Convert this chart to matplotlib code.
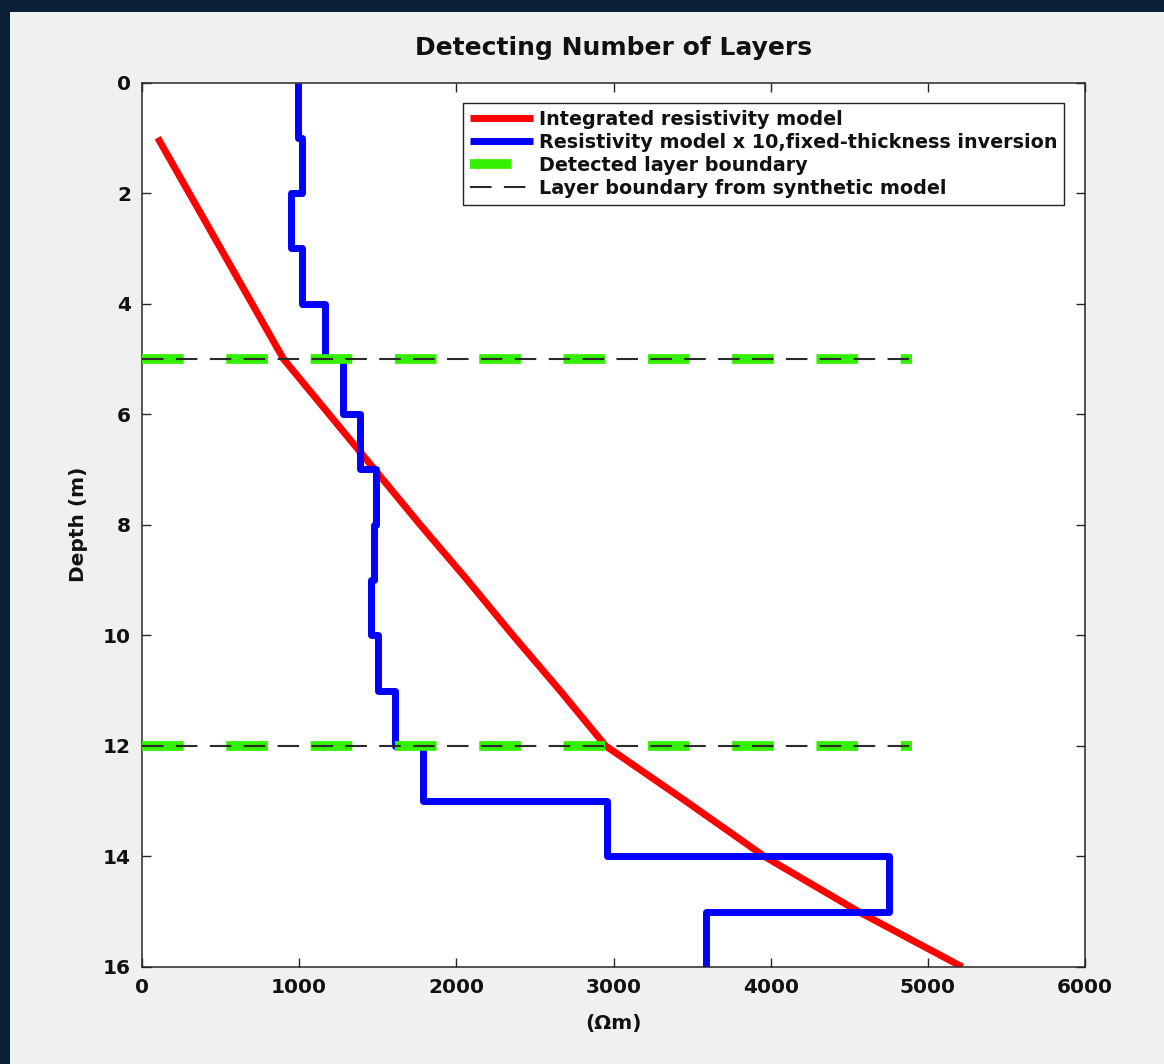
import matplotlib
matplotlib.use("Agg")
import matplotlib.pyplot as plt
from matplotlib.patches import Rectangle
from matplotlib.lines import Line2D

plt.rcParams['font.family'] = ['DejaVu Sans']
plt.rcParams['lines.scale_dashes'] = False

# ---- data ----
red_depth = [1, 2, 3, 4, 5, 6, 7, 8, 9, 10, 11, 12, 13, 14, 15, 16]
red_res = [100, 300, 500, 700, 900, 1190, 1480, 1770, 2070, 2360, 2660, 2950, 3460, 3960, 4560, 5220]

blue_edges = [0, 1, 2, 3, 4, 5, 6, 7, 8, 9, 10, 11, 12, 13, 14, 15, 16]
blue_res = [990, 1021, 946, 1021, 1166, 1276, 1389, 1490, 1478, 1456, 1499, 1611, 1788, 2960, 4754, 3590]

boundary_depths = [5, 12]
boundary_x = [0, 4900]

x_ticks = [0, 1000, 2000, 3000, 4000, 5000, 6000]
y_ticks = [0, 2, 4, 6, 8, 10, 12, 14, 16]

labels = ["Integrated resistivity model",
          "Resistivity model x 10,fixed-thickness inversion",
          "Detected layer boundary",
          "Layer boundary from synthetic model"]

# ---- figure ----
fig = plt.figure(figsize=(11.64, 10.64), dpi=100, facecolor='#f0f0f0')
# navy frame on top and left
fig.patches.append(Rectangle((0, 0), 10 / 1164, 1, transform=fig.transFigure,
                             facecolor='#0b1f38', edgecolor='none', zorder=-1))
fig.patches.append(Rectangle((0, 1 - 12 / 1064), 1, 12 / 1064, transform=fig.transFigure,
                             facecolor='#0b1f38', edgecolor='none', zorder=-1))

ax = fig.add_axes([142 / 1164, 1 - 967 / 1064, 943 / 1164, 884.5 / 1064])
ax.set_facecolor('white')

red_c = '#ff0000'
blue_c = '#0000ff'
green_c = '#33f000'
black_c = '#2a2a2a'

ax.plot(red_res, red_depth, color=red_c, lw=5, solid_capstyle='butt',
        solid_joinstyle='round', zorder=2)
ax.stairs(blue_res, blue_edges, orientation='horizontal', baseline=None,
          color=blue_c, lw=5, joinstyle='round', zorder=2)
for d in boundary_depths:
    ax.plot(boundary_x, [d, d], color=green_c, lw=7,
            linestyle=(0, (30, 30.7)), dash_capstyle='butt', zorder=3)
    ax.plot(boundary_x, [d, d], color=black_c, lw=1.5,
            linestyle=(0, (15.5, 8.9)), dash_capstyle='butt', zorder=4)

ax.set_xlim(0, 6000)
ax.set_ylim(16, 0)
ax.set_xticks(x_ticks)
ax.set_yticks(y_ticks)
ax.set_xticklabels([str(v) for v in x_ticks])
ax.set_yticklabels([str(v) for v in y_ticks])

for sp in ax.spines.values():
    sp.set_color('#262626')
    sp.set_linewidth(1.1)
ax.tick_params(direction='in', length=6.5, width=1.0, color='#262626',
               top=True, right=True, labelsize=14.5, pad=8, labelcolor='#111111')
for lab in ax.get_xticklabels() + ax.get_yticklabels():
    lab.set_fontweight('bold')

ax.set_title("Detecting Number of Layers", fontsize=18, fontweight='bold',
             pad=20, color='#111111')
ax.set_ylabel("Depth (m)", fontsize=14.5, fontweight='bold', labelpad=11,
              color='#111111')
ax.set_xlabel("(\u03a9m)", fontsize=14.5, fontweight='bold', labelpad=12,
              color='#111111')

handles = [
    Line2D([], [], color=red_c, lw=5, solid_capstyle='butt'),
    Line2D([], [], color=blue_c, lw=5, solid_capstyle='butt'),
    Line2D([], [], color=green_c, lw=7, linestyle=(0, (30, 30.7)), dash_capstyle='butt'),
    Line2D([], [], color=black_c, lw=1.5, linestyle=(0, (15.5, 8.9)), dash_capstyle='butt'),
]
leg = ax.legend(handles, labels, loc='upper right', bbox_to_anchor=(0.978, 0.977),
                fontsize=13.8, frameon=True, fancybox=False, framealpha=1,
                edgecolor='#222222', borderpad=0.35, labelspacing=0.22,
                handlelength=3.3, handletextpad=0.3, borderaxespad=0)
leg.get_frame().set_linewidth(1.0)
for t in leg.get_texts():
    t.set_fontweight('bold')
    t.set_color('#111111')

fig.savefig('out.png', dpi=100, facecolor=fig.get_facecolor())
